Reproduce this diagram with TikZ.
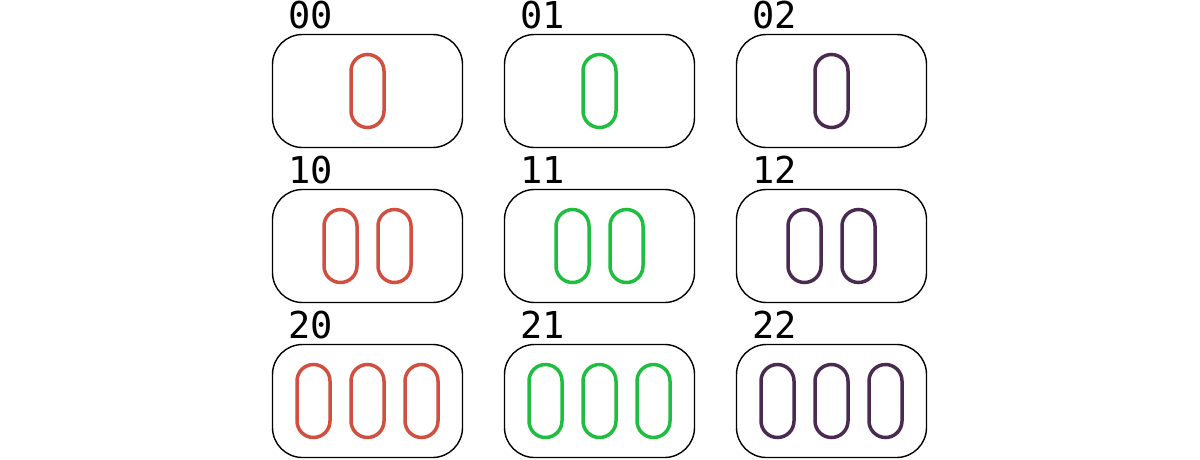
\documentclass[tikz,border=0pt]{standalone}
\usepackage{fontspec}
\newfontfamily\labelfont{DejaVu Sans Mono}
\usepackage{tikz}

\definecolor{pillred}{RGB}{209,79,63}
\definecolor{pillgreen}{RGB}{32,190,64}
\definecolor{pillpurple}{RGB}{74,42,80}

\tikzset{
    card/.style={draw, line width=1.4pt, rounded corners=30pt, minimum width=190pt, minimum height=113pt, inner sep=0pt},
    pill/.style={line width=3.5pt, rounded corners=16.5pt, minimum width=33pt, minimum height=73pt, inner sep=0pt},
    cardlabel/.style={anchor=base west, inner sep=0pt, font=\labelfont\fontsize{37}{37}\selectfont}
}

\begin{document}
\begin{tikzpicture}[x=1pt, y=-1pt]
    \useasboundingbox (0,0) rectangle (1200,459);
    % Draw the 3x3 grid of cards, one colour per column
    \foreach \row in {0, 1, 2} {
        \foreach \col/\clr in {0/pillred, 1/pillgreen, 2/pillpurple} {
            \pgfmathsetmacro{\cx}{367.5 + \col*232}
            \pgfmathsetmacro{\cy}{91 + \row*155}
            \node[card] (card\row\col) at (\cx, \cy) {};
            \node[cardlabel] (label\row\col) at (\cx - 79, \cy - 63) {\row\col};
            % Draw row+1 pills inside the card
            \foreach \k in {0, ..., \row} {
                \pgfmathsetmacro{\px}{\cx - 27*\row + 54*\k}
                \node[pill, draw=\clr] (pill\row\col\k) at (\px, \cy) {};
            }
        }
    }
\end{tikzpicture}
\end{document}
